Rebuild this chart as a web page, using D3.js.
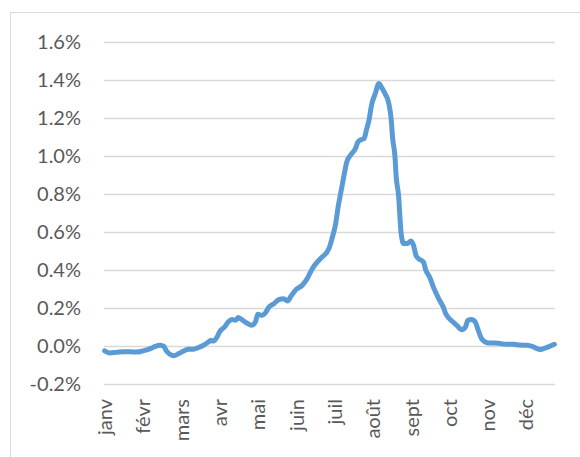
<!DOCTYPE html>
<html>
<head>
<meta charset="utf-8">
<script src="https://cdn.jsdelivr.net/npm/d3@7"></script>
<style>
  body { margin: 0; background: #fff; }
  text { font-family: Lato, "Liberation Sans", sans-serif; }
</style>
</head>
<body>
<div id="chart-container"></div>
<script>
// day of year (0 = 1 janv) and value in %
const days = [0, 4, 10, 15, 21, 26, 31, 37, 41, 45, 48, 50, 53, 56, 60, 64, 68, 72, 76, 80,
  84, 86, 88, 91, 93, 97, 100, 103, 106, 108, 111, 115, 119, 122, 124, 127, 130, 133, 137, 141,
  145, 148, 151, 155, 160, 164, 166, 169, 172, 176, 180, 182, 184, 187, 189, 192, 194, 196, 199, 203,
  205, 208, 210, 212, 214, 216, 219, 222, 224, 227, 230, 232, 233, 235, 236, 238, 239, 240, 242, 245,
  248, 250, 252, 254, 258, 260, 263, 266, 269, 271, 274, 276, 279, 282, 285, 289, 292, 294, 297, 300,
  302, 305, 308, 311, 315, 320, 325, 331, 336, 342, 346, 350, 353, 356, 360, 364];
const values = [-0.026, -0.037, -0.033, -0.030, -0.030, -0.032, -0.026, -0.014, -0.002, 0.004, -0.002, -0.026, -0.044, -0.051, -0.040, -0.026, -0.017, -0.017, -0.008, 0.004,
  0.021, 0.030, 0.026, 0.047, 0.074, 0.100, 0.126, 0.139, 0.135, 0.150, 0.139, 0.121, 0.109, 0.126, 0.167, 0.161, 0.173, 0.205, 0.223, 0.244,
  0.249, 0.237, 0.264, 0.297, 0.320, 0.355, 0.381, 0.416, 0.442, 0.468, 0.495, 0.521, 0.565, 0.644, 0.732, 0.837, 0.907, 0.969, 1.004, 1.039,
  1.074, 1.087, 1.092, 1.140, 1.190, 1.267, 1.328, 1.381, 1.363, 1.328, 1.276, 1.188, 1.100, 0.995, 0.889, 0.784, 0.679, 0.592, 0.539, 0.539,
  0.553, 0.530, 0.477, 0.460, 0.442, 0.398, 0.363, 0.311, 0.268, 0.241, 0.206, 0.171, 0.144, 0.126, 0.109, 0.086, 0.100, 0.135, 0.140, 0.126,
  0.090, 0.039, 0.021, 0.016, 0.016, 0.013, 0.009, 0.009, 0.005, 0.004, -0.002, -0.014, -0.019, -0.012, -0.002, 0.009];
const months = ["janv", "févr", "mars", "avr", "mai", "juin", "juil", "août", "sept", "oct", "nov", "déc"];
const yTicks = [-0.2, 0, 0.2, 0.4, 0.6, 0.8, 1.0, 1.2, 1.4, 1.6];
const nDays = 365;
const labelStep = 31;

const width = 580, height = 457;
const plotLeft = 104, plotRight = 555, plotTop = 42, plotBottom = 384;

const svg = d3.select("#chart-container")
  .append("svg")
  .attr("width", width)
  .attr("height", height);

svg.append("rect")
  .attr("x", 10.5).attr("y", 12.5)
  .attr("width", 620).attr("height", 500)
  .attr("fill", "#fff")
  .attr("stroke", "#d9d9d9");

const x = d3.scaleLinear().domain([0, nDays]).range([plotLeft, plotRight]);
const y = d3.scaleLinear().domain([-0.2, 1.6]).range([plotBottom, plotTop]);

const yAxis = svg.append("g")
  .attr("transform", `translate(${plotLeft},0)`)
  .call(d3.axisLeft(y)
    .tickValues(yTicks)
    .tickSize(-(plotRight - plotLeft))
    .tickPadding(23)
    .tickFormat(d => d.toFixed(1) + "%"));
yAxis.select(".domain").remove();
yAxis.selectAll("line").attr("stroke", "#d9d9d9").attr("stroke-width", 1.3);
yAxis.selectAll("text")
  .attr("fill", "#595959")
  .style("font-size", "20px");

const xAxis = svg.append("g")
  .attr("transform", `translate(0,${plotBottom})`)
  .call(d3.axisBottom(x)
    .tickValues(months.map((m, i) => i * labelStep + 0.5))
    .tickSize(0)
    .tickFormat((d, i) => months[i]));
xAxis.select(".domain").remove();
xAxis.selectAll("text")
  .attr("transform", "rotate(-90)")
  .attr("x", -15)
  .attr("y", 0)
  .attr("dy", "0.35em")
  .attr("fill", "#595959")
  .style("text-anchor", "end")
  .style("font-size", "20px");

const line = d3.line()
  .x((d, i) => x(days[i] + 0.5))
  .y(d => y(d))
  .curve(d3.curveMonotoneX);

svg.append("path")
  .datum(values)
  .attr("fill", "none")
  .attr("stroke", "#5b9bd5")
  .attr("stroke-width", 5)
  .attr("stroke-linejoin", "round")
  .attr("stroke-linecap", "round")
  .attr("d", line);
</script>
</body>
</html>
